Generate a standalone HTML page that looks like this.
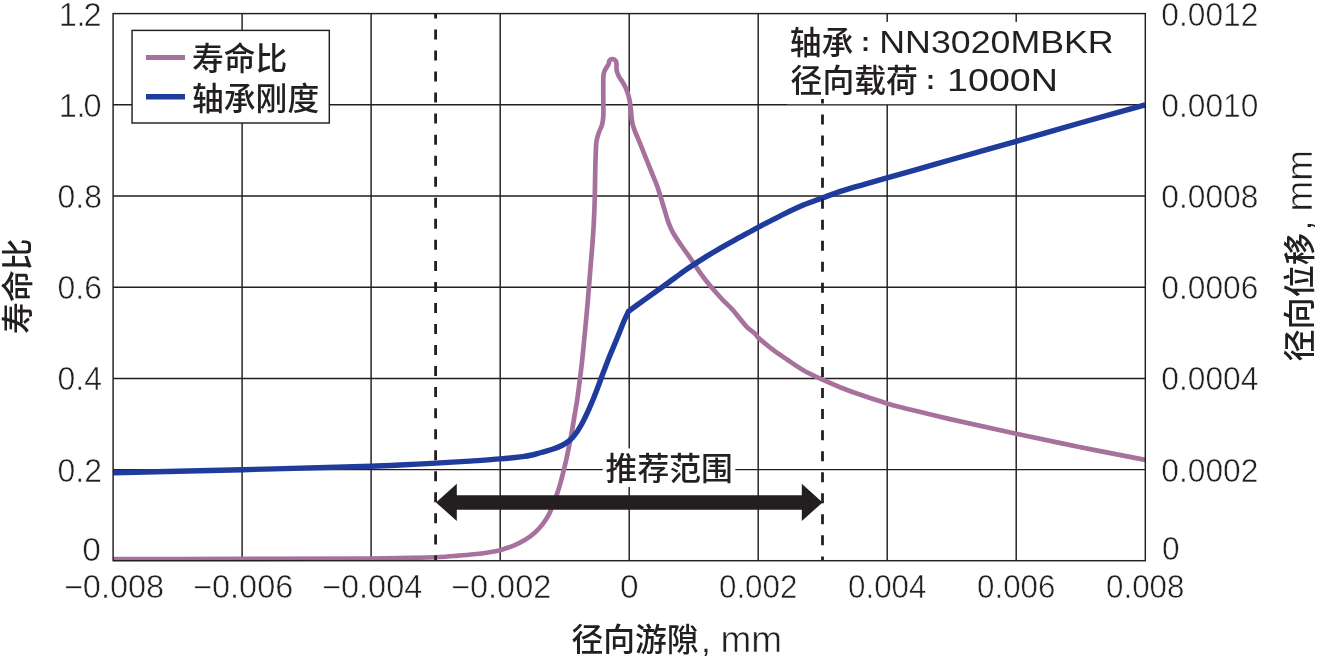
<!DOCTYPE html>
<html lang="zh"><head><meta charset="utf-8"><title>chart</title>
<style>html,body{margin:0;padding:0;background:#fff}svg{display:block}text{font-family:"Liberation Sans", "Noto Sans CJK SC", sans-serif;fill:#231f20;font-weight:500}.n{stroke:#fff;stroke-width:.55px}</style></head><body>
<svg width="1317" height="657" viewBox="0 0 1317 657">
<rect width="1317" height="657" fill="#fff"/>
<path d="M242.1,13.6 V560.75 M371.1,13.6 V560.75 M500.2,13.6 V560.75 M629.2,13.6 V560.75 M758.2,13.6 V560.75 M887.2,13.6 V560.75 M1016.2,13.6 V560.75 M113.1,104.8 H1145.25 M113.1,196.0 H1145.25 M113.1,287.2 H1145.25 M113.1,378.4 H1145.25 M113.1,469.6 H1145.25" fill="none" stroke="#231f20" stroke-width="1.45"/>
<path d="M113.1,559.0 C156.1,559.0 199.0,559.0 242.0,558.9 C285.0,558.8 328.0,558.7 371.0,558.5 C380.7,558.4 390.3,558.2 400.0,558.0 C413.3,557.7 426.7,557.5 440.0,557.0 C446.1,556.7 452.2,556.1 458.3,555.6 C464.4,555.1 470.4,554.7 476.5,554.0 C481.4,553.5 486.3,552.8 491.1,552.0 C494.4,551.4 497.7,550.8 500.9,549.9 C505.0,548.8 509.1,547.5 513.1,545.9 C517.3,544.2 521.3,542.2 525.2,539.8 C528.7,537.7 532.0,535.2 535.0,532.5 C537.7,530.1 540.1,527.4 542.3,524.6 C544.6,521.7 546.6,518.6 548.4,515.4 C550.1,512.3 551.3,509.0 552.6,505.7 C553.9,502.5 555.1,499.3 556.3,496.0 C557.6,492.4 558.9,488.7 559.9,485.0 C562.2,476.7 564.3,468.4 566.2,460.0 C568.1,451.6 569.7,443.2 571.3,434.8 C572.4,428.7 573.4,422.6 574.4,416.5 C575.4,410.4 576.5,404.4 577.4,398.3 C578.3,392.2 579.0,386.1 579.8,380.0 C580.6,373.6 581.4,367.3 582.1,360.9 C583.2,350.7 584.1,340.6 585.1,330.4 C586.1,320.3 587.0,310.1 587.9,300.0 C588.8,289.5 589.5,279.0 590.4,268.5 C591.0,260.9 591.7,253.3 592.3,245.7 C592.9,238.1 593.4,230.4 593.8,222.8 C594.2,215.2 594.5,207.6 594.7,200.0 C594.9,195.1 594.9,190.1 595.0,185.2 C595.1,179.6 595.2,174.1 595.3,168.5 C595.4,162.9 595.6,157.4 595.8,151.8 C596.0,148.2 595.9,144.6 596.5,141.1 C597.0,138.2 597.9,135.5 598.8,132.7 C599.7,130.1 601.2,127.7 601.9,125.1 C602.7,122.4 603.1,119.5 603.3,116.7 C603.6,111.1 603.3,105.6 603.3,100.0 C603.3,93.3 603.2,86.7 603.3,80.0 C603.3,78.0 603.4,76.0 603.7,74.0 C604.0,72.5 604.5,71.1 605.1,69.8 C605.7,68.6 606.6,67.6 607.3,66.4 C607.8,65.5 608.4,64.7 608.8,63.7 C609.1,62.9 608.9,62.0 609.2,61.2 C609.4,60.6 609.8,60.0 610.3,59.7 C610.8,59.3 611.5,59.2 612.2,59.2 C613.0,59.2 613.9,59.4 614.6,59.8 C615.3,60.2 615.8,60.9 616.1,61.6 C616.5,62.5 616.4,63.5 616.5,64.5 C616.6,65.8 616.4,67.2 616.5,68.5 C616.6,70.0 616.8,71.4 617.3,72.8 C617.9,74.5 618.7,76.1 619.6,77.6 C620.6,79.4 622.0,81.0 623.0,82.8 C624.1,84.7 625.2,86.5 626.0,88.5 C627.0,90.8 627.8,93.3 628.5,95.7 C629.2,98.1 629.6,100.6 630.0,103.0 C630.3,105.0 630.6,107.1 630.8,109.1 C631.3,113.7 631.5,118.3 632.3,122.8 C632.8,125.4 633.7,127.9 634.6,130.4 C635.9,134.0 637.6,137.5 639.1,141.1 C641.2,146.2 643.2,151.2 645.2,156.3 C647.2,161.4 649.3,166.4 651.3,171.5 C653.3,176.6 655.5,181.6 657.4,186.8 C659.0,191.1 660.2,195.6 661.6,200.0 C662.7,203.6 663.7,207.1 664.8,210.7 C666.0,214.7 667.1,218.9 668.6,222.8 C670.0,226.5 671.6,230.1 673.5,233.5 C675.9,237.7 678.8,241.7 681.5,245.7 C684.7,250.3 688.0,254.8 691.2,259.4 C694.3,263.9 697.2,268.6 700.4,273.1 C703.8,277.8 707.3,282.4 711.0,286.8 C714.8,291.3 718.8,295.7 722.8,300.0 C725.8,303.1 729.1,305.9 732.0,309.1 C734.7,312.0 737.1,315.2 739.6,318.3 C742.1,321.3 744.4,324.6 747.2,327.4 C749.5,329.7 752.4,331.3 754.8,333.5 C756.1,334.7 756.8,336.3 758.1,337.5 C762.8,341.8 767.7,345.8 772.8,349.7 C777.7,353.5 783.0,356.8 788.1,360.3 C793.1,363.7 798.0,367.2 803.3,370.2 C809.5,373.7 816.0,376.7 822.5,379.7 C828.7,382.5 835.0,385.2 841.3,387.7 C848.9,390.7 856.5,393.5 864.2,396.1 C871.7,398.7 879.3,401.2 887.0,403.4 C897.1,406.3 907.2,408.8 917.4,411.3 C928.2,414.0 939.1,416.6 950.0,419.1 C972.0,424.1 994.1,428.9 1016.2,433.7 C1037.2,438.2 1058.3,442.7 1079.4,447.0 C1101.3,451.5 1123.3,455.6 1145.2,459.9" fill="none" stroke="#a7719e" stroke-width="4.7" stroke-linejoin="round"/>
<path d="M113.1,472.8 C156.1,471.8 199.1,470.8 242.1,469.7 C285.1,468.6 328.1,467.6 371.1,466.3 C380.7,466.0 390.4,465.5 400.0,465.0 C412.1,464.4 424.1,463.8 436.2,463.1 C447.5,462.5 458.7,461.8 470.0,461.1 C480.0,460.4 490.1,459.8 500.1,458.9 C507.6,458.3 515.1,457.5 522.6,456.6 C525.8,456.2 528.9,455.7 532.0,455.0 C535.0,454.3 537.9,453.3 540.9,452.5 C545.0,451.3 549.1,450.4 553.1,449.0 C556.4,447.9 559.7,446.6 562.8,445.0 C565.4,443.6 567.9,442.0 570.1,440.0 C572.4,437.9 574.4,435.5 576.2,433.0 C578.5,429.8 580.4,426.4 582.3,423.0 C584.5,418.9 586.5,414.6 588.4,410.4 C590.2,406.4 591.9,402.4 593.6,398.3 C595.2,394.3 596.7,390.3 598.2,386.3 C599.8,382.0 601.4,377.6 603.0,373.3 C605.4,367.1 607.7,360.9 610.2,354.8 C612.7,348.7 615.3,342.6 617.8,336.5 C619.9,331.4 621.8,326.3 623.9,321.3 C625.4,317.9 627.0,314.6 628.6,311.2 C634.1,307.3 639.5,303.3 645.0,299.4 C650.7,295.3 656.3,291.3 662.0,287.2 C666.6,283.9 671.1,280.5 675.7,277.2 C680.2,274.0 684.7,270.7 689.3,267.6 C694.5,264.1 699.7,260.7 705.0,257.4 C710.0,254.3 714.9,251.2 720.0,248.3 C726.6,244.5 733.3,240.9 740.0,237.2 C746.0,233.9 752.0,230.5 758.1,227.3 C765.5,223.4 772.9,219.5 780.4,215.8 C788.0,212.1 795.5,208.4 803.3,205.1 C809.6,202.4 816.1,200.3 822.5,197.9 C828.8,195.6 835.0,193.2 841.3,191.1 C848.9,188.6 856.6,186.5 864.2,184.3 C871.8,182.1 879.4,179.9 887.0,177.8 C897.1,174.9 907.3,172.2 917.4,169.3 C928.3,166.2 939.1,163.1 950.0,160.0 C972.1,153.7 994.1,147.6 1016.2,141.3 C1037.5,135.2 1058.7,129.0 1080.0,123.0 C1101.7,116.9 1123.5,110.9 1145.2,104.8" fill="none" stroke="#1f3c9c" stroke-width="5.4" stroke-linejoin="round"/>
<rect x="787" y="21.9" width="328" height="82.3" fill="#fff"/>
<path d="M435.6,13.6 V560.75" fill="none" stroke="#231f20" stroke-width="2.8" stroke-dasharray="10 11.04" stroke-dashoffset="5.2"/>
<path d="M822.5,99.1 V560.75" fill="none" stroke="#231f20" stroke-width="2.8" stroke-dasharray="10 11.04" stroke-dashoffset="5.6"/>
<rect x="602.8" y="448.4" width="132.5" height="38.6" fill="#fff"/>
<rect x="132.05" y="30.4" width="197.25" height="92.6" fill="#fff" stroke="#231f20" stroke-width="1.45"/>
<path d="M146,57.4 H185" stroke="#a7719e" stroke-width="5" fill="none"/>
<path d="M146,96.8 H185" stroke="#1f3c9c" stroke-width="5.4" fill="none"/>
<rect x="113.1" y="13.6" width="1032.2" height="547.1" fill="none" stroke="#231f20" stroke-width="1.45"/>
<path d="M436.0,502.4 L456.8,483.79999999999995 V495.15 H801.8000000000001 V483.79999999999995 L822.6,502.4 L801.8000000000001,521.0 V509.65 H456.8 V521.0 Z" fill="#231f20"/>
<text class="n" x="58.8 76.4 83.5" y="25.5" font-size="32.5">1.2</text>
<text class="n" x="58.8 76.4 83.5" y="116.7" font-size="32.5">1.0</text>
<text class="n" x="57.6" y="207.9" font-size="32.5" textLength="44.4" lengthAdjust="spacingAndGlyphs">0.8</text>
<text class="n" x="57.6" y="299.1" font-size="32.5" textLength="44.4" lengthAdjust="spacingAndGlyphs">0.6</text>
<text class="n" x="57.6" y="390.3" font-size="32.5" textLength="44.4" lengthAdjust="spacingAndGlyphs">0.4</text>
<text class="n" x="57.6" y="481.5" font-size="32.5" textLength="44.4" lengthAdjust="spacingAndGlyphs">0.2</text>
<text class="n" x="82.3" y="560.6" font-size="32.5" textLength="18.6" lengthAdjust="spacingAndGlyphs">0</text>
<text class="n" x="1161.3" y="25.5" font-size="32.5" textLength="97.0" lengthAdjust="spacingAndGlyphs">0.0012</text>
<text class="n" x="1161.3" y="116.7" font-size="32.5" textLength="97.0" lengthAdjust="spacingAndGlyphs">0.0010</text>
<text class="n" x="1161.3" y="207.9" font-size="32.5" textLength="97.0" lengthAdjust="spacingAndGlyphs">0.0008</text>
<text class="n" x="1161.3" y="299.1" font-size="32.5" textLength="97.0" lengthAdjust="spacingAndGlyphs">0.0006</text>
<text class="n" x="1161.3" y="390.3" font-size="32.5" textLength="97.0" lengthAdjust="spacingAndGlyphs">0.0004</text>
<text class="n" x="1161.3" y="481.5" font-size="32.5" textLength="97.0" lengthAdjust="spacingAndGlyphs">0.0002</text>
<text class="n" x="1161.9" y="560.2" font-size="32.5" textLength="17.6" lengthAdjust="spacingAndGlyphs">0</text>
<text class="n" x="63.9" y="598.4" font-size="32.5" textLength="100.3" lengthAdjust="spacingAndGlyphs">−0.008</text>
<text class="n" x="193.0" y="598.4" font-size="32.5" textLength="100.3" lengthAdjust="spacingAndGlyphs">−0.006</text>
<text class="n" x="322.0" y="598.4" font-size="32.5" textLength="100.3" lengthAdjust="spacingAndGlyphs">−0.004</text>
<text class="n" x="451.0" y="598.4" font-size="32.5" textLength="100.3" lengthAdjust="spacingAndGlyphs">−0.002</text>
<text class="n" x="619.9" y="598.4" font-size="32.5" textLength="18.6" lengthAdjust="spacingAndGlyphs">0</text>
<text class="n" x="719.0" y="598.4" font-size="32.5" textLength="78.3" lengthAdjust="spacingAndGlyphs">0.002</text>
<text class="n" x="848.1" y="598.4" font-size="32.5" textLength="78.3" lengthAdjust="spacingAndGlyphs">0.004</text>
<text class="n" x="977.1" y="598.4" font-size="32.5" textLength="78.3" lengthAdjust="spacingAndGlyphs">0.006</text>
<text class="n" x="1106.1" y="598.4" font-size="32.5" textLength="78.3" lengthAdjust="spacingAndGlyphs">0.008</text>
<text x="192.0" y="69.5" font-size="31.8" text-anchor="start" >寿命比</text>
<text x="192.0" y="109.7" font-size="31.8" text-anchor="start" >轴承刚度</text>
<text x="789.8" y="54.0" font-size="31.8" text-anchor="start" >轴承</text>
<text x="861.0" y="51.4" font-size="27" text-anchor="start" style="font-weight:700">:</text>
<text x="879.3" y="53.4" font-size="31.5" textLength="234.4" lengthAdjust="spacingAndGlyphs">NN3020MBKR</text>
<text x="790.6" y="92.3" font-size="31.8" text-anchor="start" >径向载荷</text>
<text x="926.0" y="88.6" font-size="27" text-anchor="start" style="font-weight:700">:</text>
<text x="947.0" y="90.9" font-size="31.5" textLength="111.0" lengthAdjust="spacingAndGlyphs">1000N</text>
<text x="605.6" y="480.0" font-size="31.8" text-anchor="start" >推荐范围</text>
<text x="571.4" y="651.2" font-size="31.8" text-anchor="start" >径向游隙</text>
<text x="701.5" y="651.9" font-size="31.8" text-anchor="start" >,</text>
<text x="720.4" y="651.9" font-size="37" text-anchor="start" class="n">mm</text>
<text transform="translate(29.2,333.9) rotate(-90)" font-size="31.8">寿命比</text>
<text transform="translate(1311,361.6) rotate(-90)" font-size="32.2">径向位移</text>
<text transform="translate(1311.3,230) rotate(-90)" font-size="31.8">,</text>
<text class="n" transform="translate(1312.2,211.6) rotate(-90)" font-size="37">mm</text>
</svg></body></html>
